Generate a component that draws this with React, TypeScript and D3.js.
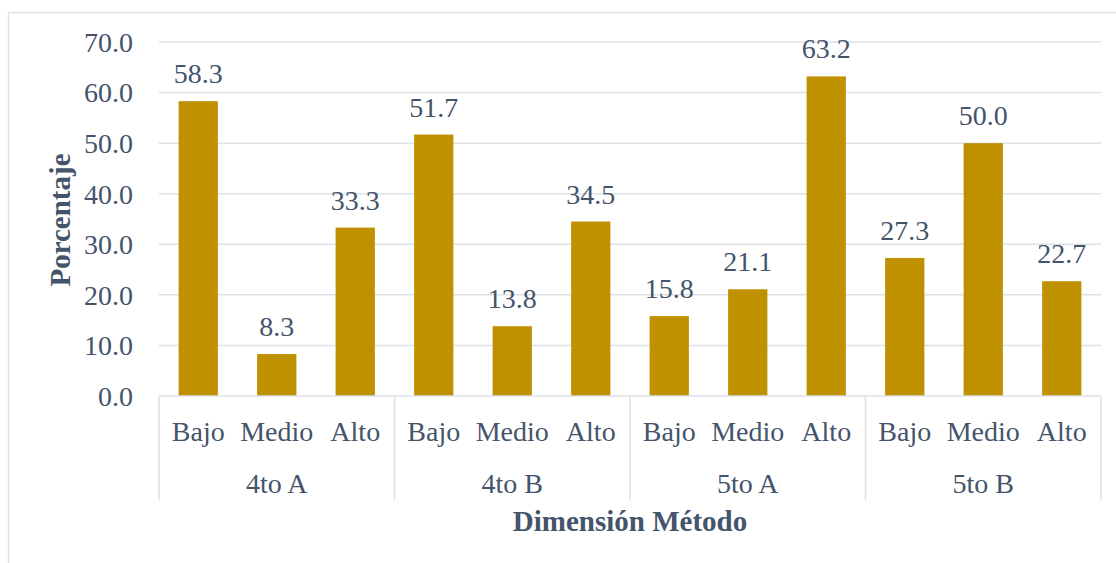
import React from "react";
import * as d3 from "d3";

const groups = ["4to A", "4to B", "5to A", "5to B"];
const levels = ["Bajo", "Medio", "Alto"];
const values4toA = [58.3, 8.3, 33.3];
const values4toB = [51.7, 13.8, 34.5];
const values5toA = [15.8, 21.1, 63.2];
const values5toB = [27.3, 50.0, 22.7];
const yTicks = [0, 10, 20, 30, 40, 50, 60, 70];
const yTitle = "Porcentaje";
const xTitle = "Dimensión Método";

const seriesByGroup = [values4toA, values4toB, values5toA, values5toB];

const W = 1116;
const H = 563;
const left = 159;
const right = 1101;
const top = 42;
const bottom = 396;
const TEXT = "#44546A";
const GRID = "#DDE2EA";
const BAR = "#BF9000";
const FONT = "Liberation Serif, Times New Roman, Times, serif";
const ts: React.CSSProperties = { fontFamily: FONT };

export default function App() {
  const rows = groups.flatMap((g, gi) =>
    levels.map((l, li) => ({ key: `${g}|${l}`, group: g, level: l, value: seriesByGroup[gi][li] }))
  );
  const x = d3.scaleBand<string>().domain(rows.map((r) => r.key)).range([left, right]).paddingInner(0.5).paddingOuter(0.25);
  const xg = d3.scaleBand<string>().domain(groups).range([left, right]);
  const y = d3.scaleLinear().domain([0, 70]).range([bottom, top]);

  return (
    <svg width={W} height={H} style={{ position: "absolute", left: 0, top: 0, background: "#fff", fontFamily: FONT }}>
      <rect x={8.5} y={12.5} width={1200} height={600} fill="#fff" stroke={GRID} strokeWidth={1.5} />
      {yTicks.map((t) => (
        <g key={t}>
          {t > 0 && <line x1={left} x2={right} y1={y(t)} y2={y(t)} stroke={GRID} strokeWidth={1.5} />}
          <text x={133} y={y(t)} dy="0.35em" textAnchor="end" fontSize={28} fill={TEXT} style={ts}>
            {t.toFixed(1)}
          </text>
        </g>
      ))}
      {rows.map((r) => (
        <g key={r.key}>
          <rect x={x(r.key)} y={y(r.value)} width={x.bandwidth()} height={bottom - y(r.value)} fill={BAR} />
          <text x={(x(r.key) as number) + x.bandwidth() / 2} y={y(r.value) - 18} textAnchor="middle" fontSize={28} fill={TEXT} style={ts}>
            {r.value.toFixed(1)}
          </text>
          <text x={(x(r.key) as number) + x.bandwidth() / 2} y={441} textAnchor="middle" fontSize={28} fill={TEXT} style={ts}>
            {r.level}
          </text>
        </g>
      ))}
      <line x1={left} x2={right} y1={bottom} y2={bottom} stroke={GRID} strokeWidth={1.5} />
      {groups.map((g) => (
        <text key={g} x={(xg(g) as number) + xg.bandwidth() / 2} y={493} textAnchor="middle" fontSize={28} fill={TEXT} style={ts}>
          {g}
        </text>
      ))}
      {[...groups.map((g) => xg(g) as number), right].map((xv, i) => (
        <line key={i} x1={xv} x2={xv} y1={bottom} y2={500} stroke={GRID} strokeWidth={1.5} />
      ))}
      <text x={(left + right) / 2} y={531} textAnchor="middle" fontSize={29} fontWeight="bold" fill={TEXT} style={ts}>
        {xTitle}
      </text>
      <text transform={`translate(70, 220) rotate(-90)`} textAnchor="middle" fontSize={29} fontWeight="bold" fill={TEXT} style={ts}>
        {yTitle}
      </text>
    </svg>
  );
}
